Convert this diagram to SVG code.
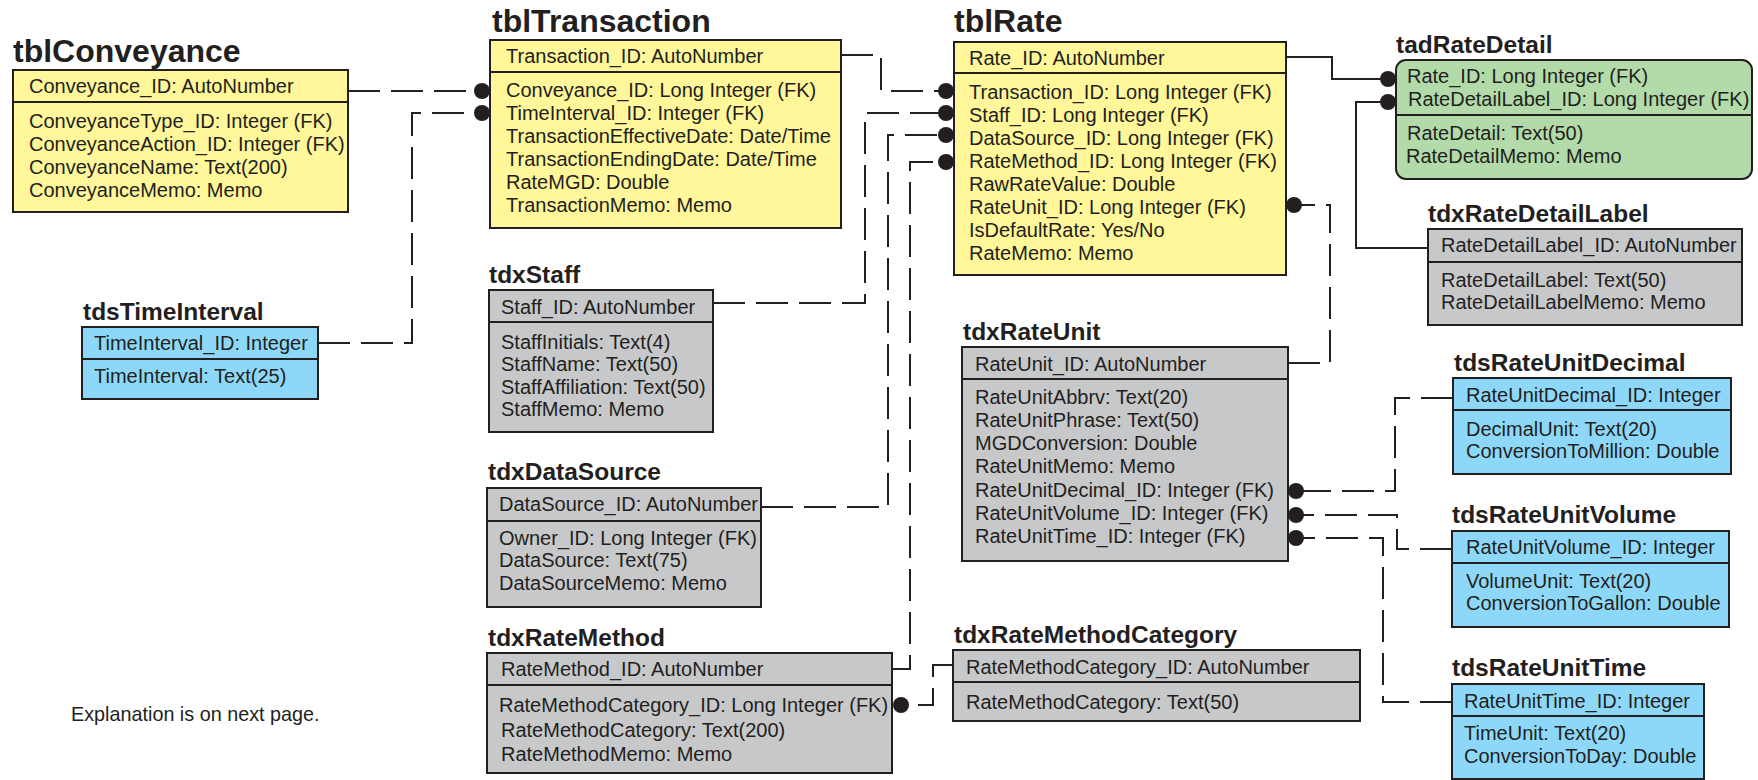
<svg xmlns="http://www.w3.org/2000/svg" width="1758" height="780" viewBox="0 0 1758 780">
<style>
text{font-family:"Liberation Sans",Arial,Helvetica,sans-serif;fill:#231f20}
.t1{font-size:32px;font-weight:bold}
.t2{font-size:24.5px;font-weight:bold}
.f{font-size:20px}
.box{stroke:#231f20;stroke-width:2}
.yl{fill:#fff799}
.bl{fill:#8dd8f8}
.gr{fill:#c7c8ca}
.gn{fill:#b2dba9}
.sep{stroke:#231f20;stroke-width:2}
.c{fill:none;stroke:#231f20;stroke-width:2;stroke-dasharray:32 11}
.s{fill:none;stroke:#231f20;stroke-width:2}
.dot{fill:#231f20}
</style>
<rect width="1758" height="780" fill="#ffffff"/>

<g id="connectors">
<path class="c" d="M348,91 H482"/>
<path class="c" d="M318,343 H412 V113 H482"/>
<path class="c" d="M841,55 H881 V91 H946"/>
<path class="c" d="M713,303 H865 V113 H946"/>
<path class="c" d="M761,507 H888 V135 H946"/>
<path class="c" d="M892,669 H910 V162 H946"/>
<path class="c" d="M953,665 H933 V705 H901"/>
<path class="c" d="M1288,363 H1330 V205 H1294"/>
<path class="c" d="M1453,398 H1395 V491 H1296"/>
<path class="c" d="M1452,549 H1397 V515 H1296"/>
<path class="c" d="M1452,702 H1383 V538 H1296"/>
<path class="s" d="M1286,57 H1332 V79 H1388"/>
<path class="s" d="M1428,248 H1356 V102 H1388"/>
<circle class="dot" cx="482" cy="91" r="8"/>
<circle class="dot" cx="482" cy="113" r="8"/>
<circle class="dot" cx="946" cy="91" r="8"/>
<circle class="dot" cx="946" cy="113" r="8"/>
<circle class="dot" cx="946" cy="135" r="8"/>
<circle class="dot" cx="946" cy="162" r="8"/>
<circle class="dot" cx="1294" cy="205" r="8"/>
<circle class="dot" cx="1388" cy="79" r="8"/>
<circle class="dot" cx="1388" cy="102" r="8"/>
<circle class="dot" cx="1296" cy="491" r="8"/>
<circle class="dot" cx="1296" cy="515" r="8"/>
<circle class="dot" cx="1296" cy="538" r="8"/>
<circle class="dot" cx="901" cy="705" r="8"/>
</g>

<g id="tblConveyance">
<text class="t1" x="13" y="62">tblConveyance</text>
<rect class="box yl" x="13" y="70" width="335" height="142"/>
<line class="sep" x1="13" y1="102" x2="348" y2="102"/>
<text class="f" x="29" y="93">Conveyance_ID: AutoNumber</text>
<text class="f" x="29" y="128">ConveyanceType_ID: Integer (FK)</text>
<text class="f" x="29" y="151">ConveyanceAction_ID: Integer (FK)</text>
<text class="f" x="29" y="174">ConveyanceName: Text(200)</text>
<text class="f" x="29" y="197">ConveyanceMemo: Memo</text>
</g>

<g id="tdsTimeInterval">
<text class="t2" x="83" y="320">tdsTimeInterval</text>
<rect class="box bl" x="82" y="327" width="236" height="72"/>
<line class="sep" x1="82" y1="359" x2="318" y2="359"/>
<text class="f" x="94" y="350">TimeInterval_ID: Integer</text>
<text class="f" x="94" y="383">TimeInterval: Text(25)</text>
</g>

<g id="tblTransaction">
<text class="t1" x="492" y="32">tblTransaction</text>
<rect class="box yl" x="490" y="40" width="351" height="188"/>
<line class="sep" x1="490" y1="72" x2="841" y2="72"/>
<text class="f" x="506" y="63">Transaction_ID: AutoNumber</text>
<text class="f" x="506" y="97">Conveyance_ID: Long Integer (FK)</text>
<text class="f" x="506" y="120">TimeInterval_ID: Integer (FK)</text>
<text class="f" x="506" y="143">TransactionEffectiveDate: Date/Time</text>
<text class="f" x="506" y="166">TransactionEndingDate: Date/Time</text>
<text class="f" x="506" y="189">RateMGD: Double</text>
<text class="f" x="506" y="212">TransactionMemo: Memo</text>
</g>

<g id="tdxStaff">
<text class="t2" x="489" y="283">tdxStaff</text>
<rect class="box gr" x="489" y="290" width="224" height="142"/>
<line class="sep" x1="489" y1="322" x2="713" y2="322"/>
<text class="f" x="501" y="314">Staff_ID: AutoNumber</text>
<text class="f" x="501" y="349">StaffInitials: Text(4)</text>
<text class="f" x="501" y="371">StaffName: Text(50)</text>
<text class="f" x="501" y="394">StaffAffiliation: Text(50)</text>
<text class="f" x="501" y="416">StaffMemo: Memo</text>
</g>

<g id="tdxDataSource">
<text class="t2" x="488" y="480">tdxDataSource</text>
<rect class="box gr" x="487" y="488" width="274" height="119"/>
<line class="sep" x1="487" y1="521" x2="761" y2="521"/>
<text class="f" x="499" y="511">DataSource_ID: AutoNumber</text>
<text class="f" x="499" y="545">Owner_ID: Long Integer (FK)</text>
<text class="f" x="499" y="567">DataSource: Text(75)</text>
<text class="f" x="499" y="590">DataSourceMemo: Memo</text>
</g>

<g id="tdxRateMethod">
<text class="t2" x="488" y="646">tdxRateMethod</text>
<rect class="box gr" x="487" y="653" width="405" height="120"/>
<line class="sep" x1="487" y1="685" x2="892" y2="685"/>
<text class="f" x="501" y="676">RateMethod_ID: AutoNumber</text>
<text class="f" x="499" y="712">RateMethodCategory_ID: Long Integer (FK)</text>
<text class="f" x="501" y="737">RateMethodCategory: Text(200)</text>
<text class="f" x="501" y="761">RateMethodMemo: Memo</text>
</g>

<g id="tdxRateMethodCategory">
<text class="t2" x="954" y="643">tdxRateMethodCategory</text>
<rect class="box gr" x="953" y="650" width="407" height="71"/>
<line class="sep" x1="953" y1="682" x2="1360" y2="682"/>
<text class="f" x="966" y="674">RateMethodCategory_ID: AutoNumber</text>
<text class="f" x="966" y="709">RateMethodCategory: Text(50)</text>
</g>

<g id="tblRate">
<text class="t1" x="954" y="32">tblRate</text>
<rect class="box yl" x="954" y="42" width="332" height="233"/>
<line class="sep" x1="954" y1="73" x2="1286" y2="73"/>
<text class="f" x="969" y="65">Rate_ID: AutoNumber</text>
<text class="f" x="969" y="99">Transaction_ID: Long Integer (FK)</text>
<text class="f" x="969" y="122">Staff_ID: Long Integer (FK)</text>
<text class="f" x="969" y="145">DataSource_ID: Long Integer (FK)</text>
<text class="f" x="969" y="168">RateMethod_ID: Long Integer (FK)</text>
<text class="f" x="969" y="191">RawRateValue: Double</text>
<text class="f" x="969" y="214">RateUnit_ID: Long Integer (FK)</text>
<text class="f" x="969" y="237">IsDefaultRate: Yes/No</text>
<text class="f" x="969" y="260">RateMemo: Memo</text>
</g>

<g id="tdxRateUnit">
<text class="t2" x="963" y="340">tdxRateUnit</text>
<rect class="box gr" x="962" y="347" width="326" height="214"/>
<line class="sep" x1="962" y1="379" x2="1288" y2="379"/>
<text class="f" x="975" y="371">RateUnit_ID: AutoNumber</text>
<text class="f" x="975" y="404">RateUnitAbbrv: Text(20)</text>
<text class="f" x="975" y="427">RateUnitPhrase: Text(50)</text>
<text class="f" x="975" y="450">MGDConversion: Double</text>
<text class="f" x="975" y="473">RateUnitMemo: Memo</text>
<text class="f" x="975" y="497">RateUnitDecimal_ID: Integer (FK)</text>
<text class="f" x="975" y="520">RateUnitVolume_ID: Integer (FK)</text>
<text class="f" x="975" y="543">RateUnitTime_ID: Integer (FK)</text>
</g>

<g id="tadRateDetail">
<text class="t2" x="1396" y="53">tadRateDetail</text>
<rect class="box gn" x="1396" y="60" width="356" height="119" rx="10" ry="10"/>
<line class="sep" x1="1396" y1="115" x2="1752" y2="115"/>
<text class="f" x="1407" y="83">Rate_ID: Long Integer (FK)</text>
<text class="f" x="1408" y="106">RateDetailLabel_ID: Long Integer (FK)</text>
<text class="f" x="1407" y="140">RateDetail: Text(50)</text>
<text class="f" x="1406" y="163">RateDetailMemo: Memo</text>
</g>

<g id="tdxRateDetailLabel">
<text class="t2" x="1428" y="222">tdxRateDetailLabel</text>
<rect class="box gr" x="1428" y="229" width="314" height="96"/>
<line class="sep" x1="1428" y1="262" x2="1742" y2="262"/>
<text class="f" x="1441" y="252">RateDetailLabel_ID: AutoNumber</text>
<text class="f" x="1441" y="287">RateDetailLabel: Text(50)</text>
<text class="f" x="1441" y="309">RateDetailLabelMemo: Memo</text>
</g>

<g id="tdsRateUnitDecimal">
<text class="t2" x="1454" y="371">tdsRateUnitDecimal</text>
<rect class="box bl" x="1453" y="378" width="278" height="96"/>
<line class="sep" x1="1453" y1="410" x2="1731" y2="410"/>
<text class="f" x="1466" y="402">RateUnitDecimal_ID: Integer</text>
<text class="f" x="1466" y="436">DecimalUnit: Text(20)</text>
<text class="f" x="1466" y="458">ConversionToMillion: Double</text>
</g>

<g id="tdsRateUnitVolume">
<text class="t2" x="1452" y="523">tdsRateUnitVolume</text>
<rect class="box bl" x="1452" y="531" width="277" height="96"/>
<line class="sep" x1="1452" y1="563" x2="1729" y2="563"/>
<text class="f" x="1466" y="554">RateUnitVolume_ID: Integer</text>
<text class="f" x="1466" y="588">VolumeUnit: Text(20)</text>
<text class="f" x="1466" y="610">ConversionToGallon: Double</text>
</g>

<g id="tdsRateUnitTime">
<text class="t2" x="1452" y="676">tdsRateUnitTime</text>
<rect class="box bl" x="1452" y="684" width="252" height="95"/>
<line class="sep" x1="1452" y1="716" x2="1704" y2="716"/>
<text class="f" x="1464" y="708">RateUnitTime_ID: Integer</text>
<text class="f" x="1464" y="740">TimeUnit: Text(20)</text>
<text class="f" x="1464" y="763">ConversionToDay: Double</text>
</g>

<text x="71" y="721" font-size="19.8">Explanation is on next page.</text>
</svg>
